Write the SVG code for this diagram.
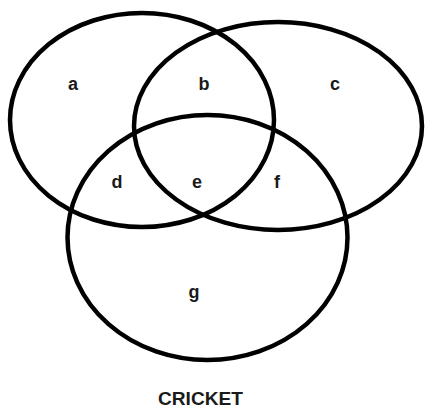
<svg xmlns="http://www.w3.org/2000/svg" width="427" height="408" viewBox="0 0 427 408">
<style>
.set{fill:none;stroke:#000;stroke-width:4.5}
.lbl{font-family:"Liberation Sans",Arial,sans-serif;font-weight:bold;font-size:18px;fill:#1a1a1a;text-anchor:middle}
</style>
<rect width="427" height="408" fill="#fff"/>
<g id="set-left"><ellipse class="set" cx="142" cy="120" rx="132" ry="107"/></g>
<g id="set-right"><ellipse class="set" cx="278" cy="126" rx="144" ry="104"/></g>
<g id="set-bottom"><ellipse class="set" cx="207.5" cy="237.5" rx="140" ry="122.5"/></g>
<g id="labels">
<text class="lbl" x="73" y="90">a</text>
<text class="lbl" x="204" y="90">b</text>
<text class="lbl" x="335" y="90">c</text>
<text class="lbl" x="117" y="188">d</text>
<text class="lbl" x="197" y="188">e</text>
<text class="lbl" x="277" y="188">f</text>
<text class="lbl" x="194" y="298">g</text>
<text class="lbl" x="200.5" y="405" font-size="19" textLength="85" lengthAdjust="spacingAndGlyphs">CRICKET</text>
</g>
</svg>
